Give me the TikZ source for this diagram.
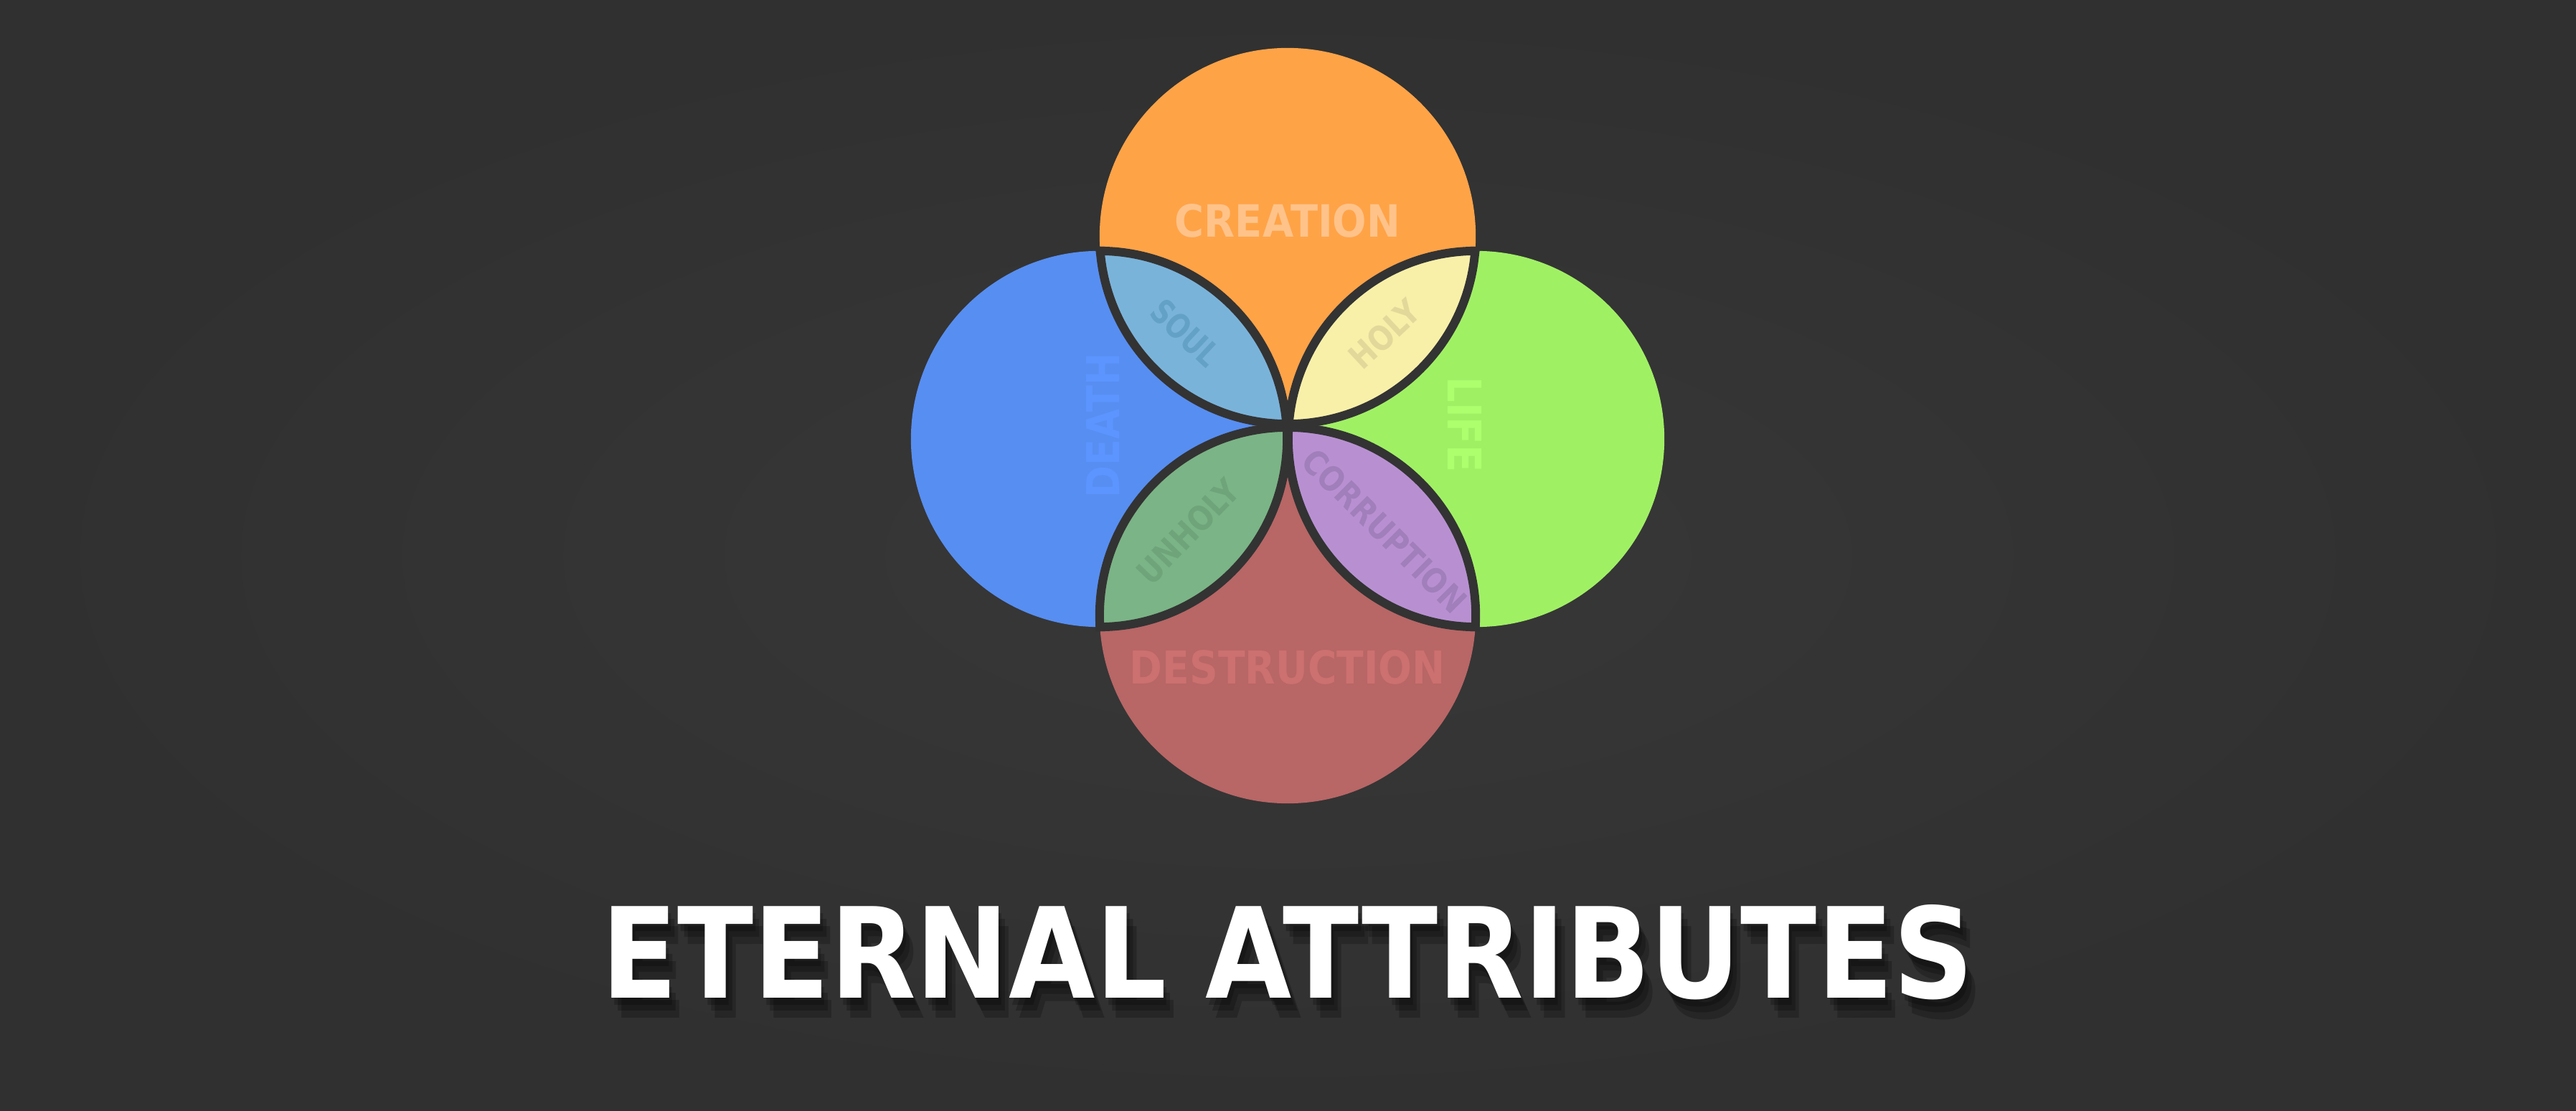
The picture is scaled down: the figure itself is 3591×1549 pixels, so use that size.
\documentclass[tikz,border=0pt]{standalone}
\usepackage{fontspec}
\setmainfont{DejaVu Sans}
\usepackage{xcolor}
\usepackage{tikz}

\definecolor{bgin}{HTML}{383838}
\definecolor{bgout}{HTML}{303030}
\definecolor{rimc}{HTML}{333333}
\definecolor{creationc}{HTML}{FFA347}
\definecolor{deathc}{HTML}{578EF1}
\definecolor{lifec}{HTML}{A0F064}
\definecolor{destructc}{HTML}{B86666}
\definecolor{soulc}{HTML}{7AB3DA}
\definecolor{holyc}{HTML}{F8F0A8}
\definecolor{unholyc}{HTML}{7BB486}
\definecolor{corruptc}{HTML}{B890D2}
\definecolor{creationt}{HTML}{FFC38A}
\definecolor{deatht}{HTML}{5C95FF}
\definecolor{lifet}{HTML}{ADFF6E}
\definecolor{destructt}{HTML}{CC7070}
\definecolor{soult}{HTML}{64A1C6}
\definecolor{holyt}{HTML}{E2D89A}
\definecolor{unholyt}{HTML}{6FA47A}
\definecolor{corruptt}{HTML}{A07FBA}

\begin{document}
\begin{tikzpicture}[x=0.01cm, y=-0.01cm, ring/.style={circle, minimum size=5.24cm, inner sep=0pt}, lbl/.style={inner sep=0pt, font=\bfseries}, rim/.style={draw=rimc, line width=0.12cm}]

% Background
\useasboundingbox (0,0) rectangle (3591,1549);
\shade[inner color=bgin, outer color=bgout] (0,0) rectangle (3591,1549);

% Four attributes
\node[ring, fill=creationc] (creation) at (1795,329) {};
\node[ring, fill=deathc] (death) at (1532,612) {};
\node[ring, fill=lifec] (life) at (2058,612) {};
\node[ring, fill=destructc] (destruct) at (1795,858) {};

% Overlaps
\foreach \a/\b/\c in {creation/death/soulc, creation/life/holyc, destruct/death/unholyc, destruct/life/corruptc} {
  \begin{scope}
    \clip (\a.center) circle (2.62cm);
    \fill[\c] (\b.center) circle (2.62cm);
  \end{scope}
  \begin{scope}
    \clip (\b.center) circle (2.68cm);
    \draw[rim] (\a.center) circle (2.62cm);
  \end{scope}
  \begin{scope}
    \clip (\a.center) circle (2.68cm);
    \draw[rim] (\b.center) circle (2.62cm);
  \end{scope}
}

% Labels
\node[lbl, text=creationt] (creationlbl) at (1795,308) {\resizebox{3.14cm}{0.46cm}{CREATION}};
\node[lbl, text=destructt] (destructlbl) at (1795,930) {\resizebox{4.40cm}{0.47cm}{DESTRUCTION}};
\node[lbl, text=deatht, rotate=90] (deathlbl) at (1537,593) {\resizebox{2.02cm}{0.46cm}{DEATH}};
\node[lbl, text=lifet, rotate=-90] (lifelbl) at (2042,592) {\resizebox{1.33cm}{0.47cm}{LIFE}};
\node[lbl, text=soult, rotate=-43] (soullbl) at (1653,464) {\resizebox{1.12cm}{0.35cm}{SOUL}};
\node[lbl, text=holyt, rotate=43] (holylbl) at (1930,466) {\resizebox{1.15cm}{0.35cm}{HOLY}};
\node[lbl, text=unholyt, rotate=46] (unholylbl) at (1656,741) {\resizebox{1.81cm}{0.35cm}{UNHOLY}};
\node[lbl, text=corruptt, rotate=-45] (corruptlbl) at (1930,740) {\resizebox{3.00cm}{0.35cm}{CORRUPTION}};

% Title
\foreach \dx/\dy in {4/10, 9/18, 14/28}
  \node[lbl, text=black, opacity=0.22] (shadow\dy) at (1795+\dx,1328+\dy) {\resizebox{19.11cm}{1.30cm}{ETERNAL ATTRIBUTES}};
\node[lbl, text=white] (title) at (1795,1328) {\resizebox{19.11cm}{1.30cm}{ETERNAL ATTRIBUTES}};

\end{tikzpicture}
\end{document}
